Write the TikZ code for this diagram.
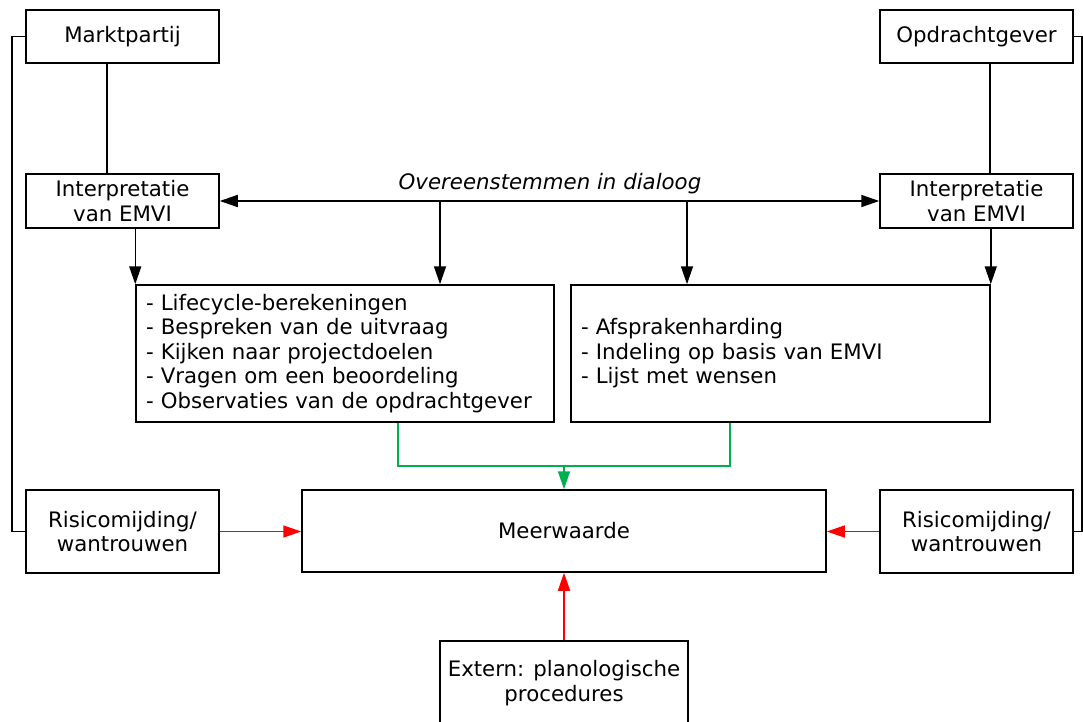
\documentclass[tikz,border=0pt]{standalone}
\usepackage{fontspec}
\setmainfont{DejaVu Sans}
\usetikzlibrary{arrows.meta}
\definecolor{lgreen}{RGB}{0,176,80}
\definecolor{lred}{RGB}{255,0,0}
\begin{document}
\begin{tikzpicture}[x=1pt,y=-1pt,
  box/.style={draw=black, line width=1.5pt, inner sep=0pt, align=center,
    font=\fontsize{21.3}{24.5}\selectfont},
  listbox/.style={box, align=left, inner xsep=10pt, inner ysep=0pt},
  conn/.style={line width=1.5pt, black},
  tri/.style={-{Triangle[length=18pt,width=12pt]}},
  tritwo/.style={{Triangle[length=18pt,width=12pt]}-{Triangle[length=18pt,width=12pt]}},
  gline/.style={line width=1.5pt, lgreen},
  rline/.style={line width=1.5pt, lred}]
\clip (0,0) rectangle (1083,722);
\fill[white] (0,0) rectangle (1083,722);

\node[box, minimum width=193pt, minimum height=53pt] (mp) at (122.5,36.5) {Marktpartij};
\node[box, minimum width=193pt, minimum height=53pt] (og) at (976.5,36.5) {Opdrachtgever};
\node[box, minimum width=193pt, minimum height=54pt] (intL) at (122.5,201) {Interpretatie\\van EMVI};
\node[box, minimum width=193pt, minimum height=54pt] (intR) at (976.5,201) {Interpretatie\\van EMVI};
\node[listbox, text width=398pt, minimum height=137pt] (lifeL) at (345,353.5)
  {- Lifecycle-berekeningen\\- Bespreken van de uitvraag\\- Kijken naar projectdoelen\\- Vragen om een beoordeling\\- Observaties van de opdrachtgever};
\node[listbox, text width=399pt, minimum height=137pt] (lifeR) at (780.5,353.5)
  {- Afsprakenharding\\- Indeling op basis van EMVI\\- Lijst met wensen};
\node[box, minimum width=524pt, minimum height=82pt] (meer) at (564,531) {Meerwaarde};
\node[box, minimum width=193pt, minimum height=83pt] (risL) at (122.5,531.5) {Risicomijding/\\wantrouwen};
\node[box, minimum width=193pt, minimum height=83pt] (risR) at (976.5,531.5) {Risicomijding/\\wantrouwen};
\node[box, minimum width=248pt, minimum height=84pt] (ext) at (564,683) {Extern: planologische\\procedures};

\node[font=\fontsize{21.3}{24.5}\selectfont\itshape, inner sep=0pt] (dial) at (550,184) {Overeenstemmen in dialoog};

% vertical connectors from top boxes
\draw[conn] ([xshift=-15.5pt]mp.south) -- ([xshift=-15.5pt]intL.north);
\draw[conn] ([xshift=13.5pt]og.south) -- ([xshift=13.5pt]intR.north);

% outer bus lines
\coordinate (busL) at (12,0);
\coordinate (busR) at (1082,0);
\draw[conn] (mp.west) -- (mp.west -| busL) -- (risL.west -| busL) -- (risL.west);
\draw[conn] (og.east) -- (og.east -| busR) -- (risR.east -| busR) -- (risR.east);

% dialogue arrow
\draw[conn, tritwo] (intL.east) -- (intR.west);
\coordinate (d1) at (440,201);
\coordinate (d2) at (687,201);
\draw[conn, tri] (d1) -- (d1 |- lifeL.north);
\draw[conn, tri] (d2) -- (d2 |- lifeR.north);
\draw[conn, tri] (intL.south -| lifeL.north west) -- (lifeL.north west);
\draw[conn, tri] (intR.south -| lifeR.north east) -- (lifeR.north east);

% green merge
\coordinate (g1) at (398,0);
\coordinate (g2) at (730,0);
\coordinate (gm) at (564,466);
\draw[gline] (lifeL.south -| g1) -- (gm -| g1) -- (gm -| g2) -- (lifeR.south -| g2);
\draw[gline, tri] (gm) -- (meer.north);

% red arrows
\draw[rline, tri] (risL.east) -- (meer.west |- risL.east);
\draw[rline, tri] (risR.west) -- (meer.east |- risR.west);
\draw[rline, tri] (ext.north) -- (meer.south);
\end{tikzpicture}
\end{document}
